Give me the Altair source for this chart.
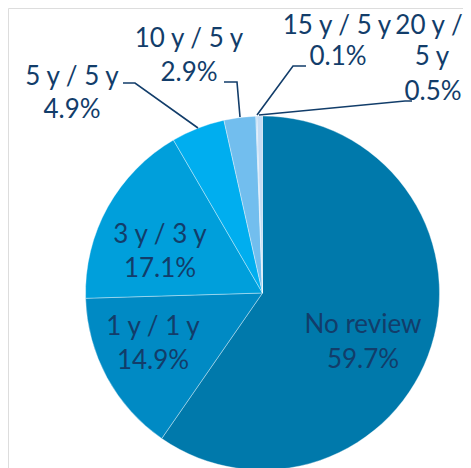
import altair as alt
import pandas as pd

categories = ["No review", "1 y / 1 y", "3 y / 3 y", "5 y / 5 y", "10 y / 5 y", "15 y / 5 y", "20 y / 5 y"]
shares = [59.7, 14.9, 17.1, 4.9, 2.9, 0.1, 0.5]
colors = ["#0079AB", "#008AC4", "#009FDB", "#00AEEF", "#72BEEE", "#A9D2F2", "#C4DDF5"]
pct_labels = ["59.7%", "14.9%", "17.1%", "4.9%", "2.9%", "0.1%", "0.5%"]

TEXT = "#123D6A"
OFF = 8  # page margin

df = pd.DataFrame({"cat": categories, "share": shares, "idx": list(range(len(categories)))})

# label layout (page pixels): (text, center x, baseline y)
label_rows = [
    ("No review", 363, 333), (pct_labels[0], 363, 368),
    ("1 y / 1 y", 153, 335), (pct_labels[1], 153, 369),
    ("3 y / 3 y", 160, 243), (pct_labels[2], 160, 277),
    ("5 y / 5 y", 72, 85), (pct_labels[3], 72, 118),
    ("10 y / 5 y", 189, 47), (pct_labels[4], 189, 81),
    ("15 y / 5 y", 337, 34), (pct_labels[5], 338, 65),
    ("20 y /", 429, 34), ("5 y", 432, 65), (pct_labels[6], 433, 100),
]
lab = pd.DataFrame({
    "t": [r[0] for r in label_rows],
    "x": [r[1] - OFF for r in label_rows],
    "y": [r[2] - OFF for r in label_rows],
})

# leader lines (page pixels)
leaders = {
    "5y": [(123, 83), (135, 83), (198, 128)],
    "10y": [(224, 82), (237, 82), (240, 117)],
    "15y": [(306, 66), (293, 66), (257, 115)],
    "20y": [(412, 101), (405, 101), (259, 115)],
}
lr = []
for k, pts in leaders.items():
    for i, (px, py) in enumerate(pts):
        lr.append({"g": k, "o": i, "x": px - OFF, "y": py - OFF})
ld = pd.DataFrame(lr)

pie = alt.Chart(df).mark_arc(outerRadius=177, stroke="#ffffff", strokeWidth=0.6, strokeOpacity=0.6).encode(
    theta=alt.Theta("share:Q", stack=True),
    color=alt.Color("cat:N", scale=alt.Scale(domain=categories, range=colors), legend=None),
    order=alt.Order("idx:Q", sort="ascending"),
    x=alt.value(262.5 - OFF),
    y=alt.value(293 - OFF),
)

text = alt.Chart(lab).mark_text(font="Lato", fontSize=26, color=TEXT, align="center", baseline="alphabetic").encode(
    x=alt.X("x:Q", scale=None),
    y=alt.Y("y:Q", scale=None),
    text="t:N",
)

lines = alt.Chart(ld).mark_line(color=TEXT, strokeWidth=1.6).encode(
    x=alt.X("x:Q", scale=None),
    y=alt.Y("y:Q", scale=None),
    detail="g:N",
    order="o:Q",
)

chart = alt.layer(pie, lines, text).properties(
    width=455, height=460, padding=0, autosize=alt.AutoSizeParams(type="none")
).configure_view(stroke=None).configure(background="white")

chart.save("out.html", embed_options={"renderer": "svg", "actions": False})
